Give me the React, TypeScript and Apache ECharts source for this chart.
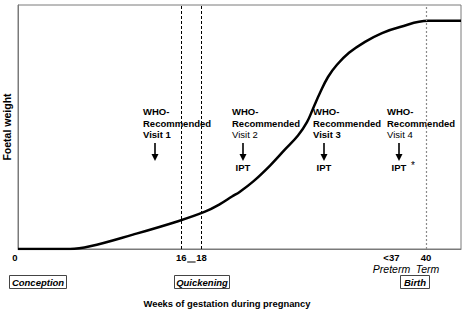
import React, { useEffect, useRef } from "react";
import * as echarts from "echarts";

// Curve of foetal weight (arbitrary units 0-100) against weeks of gestation
const weeks = [0, 5.1, 7.06, 11.27, 15.69, 18.33, 19.8, 20.98, 21.76, 23.04, 24.71, 26.18, 27.45, 28.33, 28.92, 29.61, 30.39, 31.27, 32.45, 34.02, 35.69, 37.45, 40.2, 43.43];
const weight = [0, 0, 1.1, 5.9, 11.4, 15.3, 18.4, 21.5, 23.5, 27.6, 34.2, 40.8, 46.5, 52.0, 57.5, 64.0, 70.5, 75.5, 80.4, 84.9, 88.5, 91.0, 93.5, 93.5];

// Tick labels
const tickWeeks = [0, 16, 18, 37, 40];
const tickTop = ["0", "16", "18", "<37", "40"];
const subLabels = ["Preterm", "Term"];

// Vertical reference lines
const solidRefWeeks = [16, 18];
const termWeek = 40;

// Annotations
const visitNames = ["Visit 1", "Visit 2", "Visit 3", "Visit 4"];
const visitIpt = ["", "IPT", "IPT", "IPT"];
const visitBold = [true, false, true, false];
const milestoneLabels = ["Conception", "Quickening", "Birth"];

const FONT = '"Liberation Sans", Arial, sans-serif';

export default function App() {
  const ref = useRef<HTMLDivElement>(null);
  useEffect(() => {
    if (!ref.current) return;
    const chart = echarts.init(ref.current, null, { renderer: "svg" });
    const option: any = {
      animation: false,
      backgroundColor: "#ffffff",
      grid: {
        left: 18,
        right: 3,
        top: 5,
        bottom: 65,
        containLabel: false,
        outerBoundsMode: "none",
        show: true,
        borderColor: "#7a7a7a",
        borderWidth: 1,
        backgroundColor: "transparent",
      },
      xAxis: {
        type: "value",
        min: 0,
        max: 43.43,
        splitLine: { show: false },
        axisTick: { show: false },
        axisLine: { show: true, lineStyle: { color: "#7a7a7a", width: 1 } },
        axisLabel: {
          customValues: tickWeeks,
          margin: 2,
          hideOverlap: false,
          formatter: (v: number) => {
            const i = tickWeeks.indexOf(v);
            if (i < 0) return "";
            if (i === 0) return `{z|${tickTop[i]}}`;
            if (i === 3) return `{p|${tickTop[i]}}`;
            return `{b|${tickTop[i]}}`;
          },
          rich: {
            b: { fontFamily: FONT, fontWeight: "bold", fontSize: 9.5, color: "#000", lineHeight: 12 },
            z: { fontFamily: FONT, fontWeight: "bold", fontSize: 9.5, color: "#000", lineHeight: 12, padding: [0, 6, 0, 0] },
            p: { fontFamily: FONT, fontWeight: "bold", fontSize: 9.5, color: "#000", lineHeight: 12, padding: [0, 8, 0, 0] },
          },
        },
        name: "Weeks of gestation during pregnancy",
        nameLocation: "middle",
        nameGap: 50,
        nameTextStyle: {
          fontFamily: FONT,
          fontWeight: "bold",
          fontSize: 9.4,
          color: "#000",
          padding: [0, 25, 0, 0],
        },
      },
      yAxis: {
        type: "value",
        min: 0,
        max: 100,
        splitLine: { show: false },
        axisTick: { show: false },
        axisLabel: { show: false },
        axisLine: { show: true, lineStyle: { color: "#7a7a7a", width: 1 } },
        name: "Foetal weight",
        nameLocation: "middle",
        nameGap: 6,
        nameTextStyle: { fontFamily: FONT, fontWeight: "bold", fontSize: 10.5, color: "#000" },
      },
      series: [
        {
          type: "line",
          data: weeks.map((w, i) => [w, weight[i]]),
          showSymbol: false,
          smooth: 0.4,
          lineStyle: { color: "#000", width: 2.5 },
          z: 3,
          markLine: {
            silent: true,
            symbol: "none",
            label: { show: false },
            animation: false,
            data: [
              ...solidRefWeeks.map((w) => ({
                xAxis: w,
                lineStyle: { color: "#000", width: 1, type: [3, 2] },
              })),
              { xAxis: termWeek, lineStyle: { color: "#8a8a8a", width: 1.2, type: [2, 2] } },
            ],
          },
        },
      ],
    };
    chart.setOption(option);

    const px = (w: number) => chart.convertToPixel({ xAxisIndex: 0 }, w) as number;
    const x16 = px(16);
    const x18 = px(18);

    const visitX = [143, 232, 313, 387];
    const arrowX = [155, 243, 324, 399];
    const graphics: any[] = [];
    const txt = (text: string, x: number, y: number, opts: any = {}) => ({
      type: "text",
      x,
      y,
      silent: true,
      style: {
        text,
        fill: "#000",
        font: opts.font || `bold 9.5px ${FONT}`,
        textAlign: opts.align || "left",
        textVerticalAlign: "middle",
      },
    });
    visitNames.forEach((v, i) => {
      const lx = visitX[i];
      graphics.push(txt("WHO-", lx, 111));
      graphics.push(txt("Recommended", lx, 123));
      graphics.push(txt(v, lx, 134, { font: `${visitBold[i] ? "bold " : ""}9.5px ${FONT}` }));
      const ax = arrowX[i];
      graphics.push({
        type: "line",
        silent: true,
        shape: { x1: ax, y1: 143, x2: ax, y2: 156 },
        style: { stroke: "#000", lineWidth: 1.6 },
      });
      graphics.push({
        type: "polygon",
        silent: true,
        shape: { points: [[ax - 3.5, 154], [ax + 3.5, 154], [ax, 161]] },
        style: { fill: "#000" },
      });
      if (visitIpt[i]) {
        graphics.push(txt(visitIpt[i], ax, 167, { align: "center" }));
      }
      if (i === 3) {
        graphics.push(txt("*", ax + 12, 165, { font: `10px ${FONT}` }));
      }
    });

    // underscore between 16 and 18
    graphics.push({
      type: "line",
      silent: true,
      shape: { x1: x16 + 6, y1: 262, x2: x18 - 6, y2: 262 },
      style: { stroke: "#000", lineWidth: 1 },
    });

    // Preterm / Term sub-labels
    graphics.push(txt(subLabels[0], 391.5, 269, { align: "center", font: `italic 10.5px ${FONT}` }));
    graphics.push(txt(subLabels[1], 427.5, 269, { align: "center", font: `italic 10.5px ${FONT}` }));

    // milestone boxes
    const boxes = [
      { x: 9, w: 57 },
      { x: 174, w: 55 },
      { x: 400, w: 29 },
    ];
    milestoneLabels.forEach((m, i) => {
      const b = boxes[i];
      graphics.push({
        type: "rect",
        silent: true,
        shape: { x: b.x + 0.5, y: 275.5, width: b.w, height: 13 },
        style: { fill: "#fff", stroke: "#444", lineWidth: 1 },
      });
      graphics.push(
        txt(m, b.x + b.w / 2 + 0.5, 282.5, { align: "center", font: `italic bold 9.5px ${FONT}` })
      );
    });

    chart.setOption({ graphic: { elements: graphics } });

    return () => chart.dispose();
  }, []);
  return <div ref={ref} style={{ width: 464, height: 314, position: "absolute", left: 0, top: 0 }} />;
}
